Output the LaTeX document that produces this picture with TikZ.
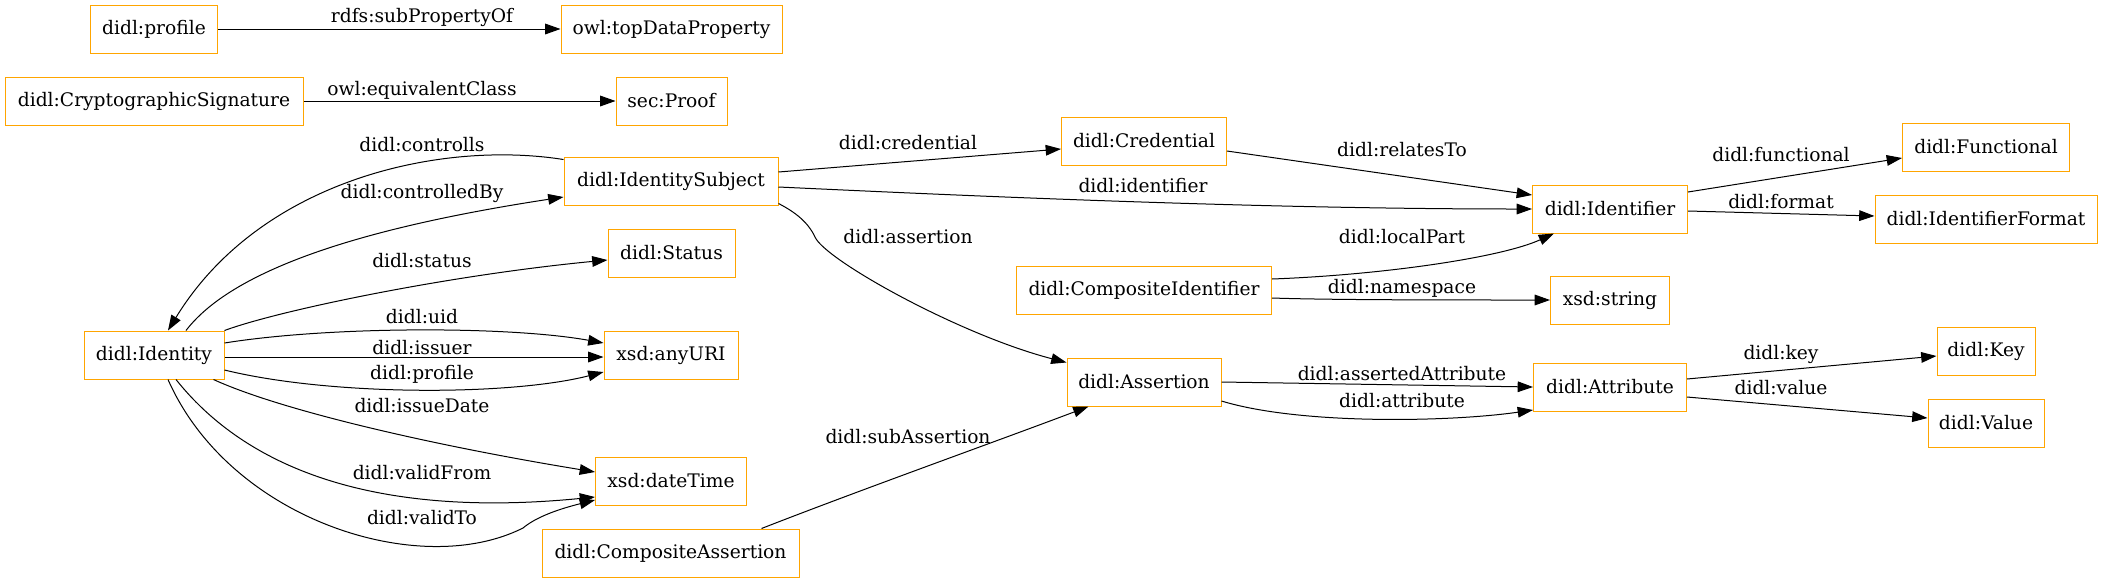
\documentclass[tikz,border=0pt]{standalone}
\usepackage{fontspec}
\setmainfont{DejaVu Serif}
\usetikzlibrary{arrows.meta,calc}
\definecolor{gvorange}{HTML}{FFA500}
\begin{document}
\begin{tikzpicture}[x=0.75pt,y=-0.75pt,
  box/.style={draw=gvorange,line width=0.75pt,rectangle,minimum height=36pt,inner xsep=1pt,inner ysep=0pt,font=\fontsize{14}{16}\selectfont},
  lbl/.style={inner sep=0pt,font=\fontsize{14}{16}\selectfont},
  edge/.style={draw=black,line width=0.75pt,-{Triangle[length=11.5pt,width=8pt]}}]
\useasboundingbox (0,0) rectangle (2103,583);
% nodes
\node[box,minimum width=95.25pt] (profile) at (154,29) {didl:profile};
\node[box,minimum width=165.75pt] (topdp) at (671.5,29) {owl:topDataProperty};
\node[box,minimum width=223.5pt] (crypto) at (154,101) {didl:CryptographicSignature};
\node[box,minimum width=83.25pt] (proof) at (671.5,101) {sec:Proof};
\node[box,minimum width=160.5pt] (ids) at (671,181) {didl:IdentitySubject};
\node[box,minimum width=95.25pt] (status) at (671.5,253) {didl:Status};
\node[box,minimum width=105pt] (identity) at (154,355) {didl:Identity};
\node[box,minimum width=100.5pt] (anyuri) at (671,355) {xsd:anyURI};
\node[box,minimum width=113.25pt] (datetime) at (671,481) {xsd:dateTime};
\node[box,minimum width=192.75pt] (compass) at (670.5,553) {didl:CompositeAssertion};
\node[box,minimum width=123.75pt] (cred) at (1144,141) {didl:Credential};
\node[box,minimum width=191.25pt] (compid) at (1144,290) {didl:CompositeIdentifier};
\node[box,minimum width=115.5pt] (assertion) at (1144,382) {didl:Assertion};
\node[box,minimum width=116.25pt] (identifier) at (1610,209) {didl:Identifier};
\node[box,minimum width=89.25pt] (string) at (1610,300) {xsd:string};
\node[box,minimum width=114.75pt] (attribute) at (1610,387) {didl:Attribute};
\node[box,minimum width=125.25pt] (functional) at (1986,147) {didl:Functional};
\node[box,minimum width=166.5pt] (idformat) at (1986,219) {didl:IdentifierFormat};
\node[box,minimum width=73.5pt] (key) at (1986,351) {didl:Key};
\node[box,minimum width=87pt] (value) at (1986,423) {didl:Value};
% edges
\draw[edge] (profile.east) -- (topdp.west);
\draw[edge] (crypto.east) -- (proof.west);
\draw[edge] ($(ids.north west)+(0,3)$) .. controls (440,140) and (260,180) .. ($(identity.north)+(14,0)$);
\draw[edge] ($(identity.north)+(32,0)$) .. controls (240,260) and (400,222) .. ($(ids.west)+(0,16)$);
\draw[edge] (identity.north east) .. controls (280,310) and (450,275) .. ($(status.west)+(0,7)$);
\draw[edge] ($(identity.east)+(0,-12)$) .. controls (330,326) and (510,326) .. ($(anyuri.west)+(0,-12)$);
\draw[edge] ($(identity.east)+(0,2)$) -- ($(anyuri.west)+(0,2)$);
\draw[edge] ($(identity.east)+(0,15)$) .. controls (330,396) and (510,396) .. ($(anyuri.west)+(0,17)$);
\draw[edge] ($(identity.south east)+(-11,0)$) .. controls (280,410) and (430,445) .. ($(datetime.west)+(0,-9)$);
\draw[edge] ($(identity.south)+(22,0)$) .. controls (240,460) and (360,520) .. ($(datetime.west)+(0,16)$);
\draw[edge] ($(identity.south)+(14,0)$) .. controls (230,520) and (420,580) .. (523,528) .. controls (535,518) and (555,510) .. ($(datetime.west)+(0,19)$);
\draw[edge] ($(ids.east)+(0,-9)$) -- ($(cred.west)+(0,8)$);
\draw[edge] ($(ids.east)+(0,6)$) .. controls (950,195) and (1250,209) .. (identifier.west);
\draw[edge] ($(ids.south east)+(0,-2)$) .. controls (795,212) and (808,222) .. (815,237) .. controls (825,260) and (960,335) .. ($(assertion.north west)+(0,5)$);
\draw[edge] ($(cred.east)+(0,10)$) -- ($(identifier.west)+(0,-14)$);
\draw[edge] ($(compid.east)+(0,-11)$) .. controls (1380,275) and (1500,258) .. ($(identifier.south west)+(22,0)$);
\draw[edge] ($(compid.east)+(0,8)$) .. controls (1330,300) and (1450,300) .. (string.west);
\draw[edge] (assertion.east) -- (attribute.west);
\draw[edge] ($(assertion.east)+(0,19)$) .. controls (1300,425) and (1450,422) .. ($(attribute.west)+(0,23)$);
\draw[edge] ($(compass.north)+(91,0)$) .. controls (860,490) and (1000,440) .. ($(assertion.south west)+(22,0)$);
\draw[edge] ($(identifier.east)+(0,-17)$) -- ($(functional.west)+(0,11)$);
\draw[edge] ($(identifier.east)+(0,2)$) -- ($(idformat.west)+(0,-3)$);
\draw[edge] ($(attribute.east)+(0,-8)$) -- ($(key.west)+(0,5)$);
\draw[edge] ($(attribute.east)+(0,10)$) -- ($(value.west)+(0,-5)$);
% labels
\node[lbl] (l1) at (422,17) {rdfs:subPropertyOf};
\node[lbl] (l2) at (422,90) {owl:equivalentClass};
\node[lbl] (l3) at (422,145) {didl:controlls};
\node[lbl] (l4) at (422,193) {didl:controlledBy};
\node[lbl] (l5) at (422,261) {didl:status};
\node[lbl] (l6) at (422,317) {didl:uid};
\node[lbl] (l7) at (422,348) {didl:issuer};
\node[lbl] (l8) at (422,374) {didl:profile};
\node[lbl] (l9) at (422,406) {didl:issueDate};
\node[lbl] (l10) at (422,473) {didl:validFrom};
\node[lbl] (l11) at (422,518) {didl:validTo};
\node[lbl] (l12) at (908,143) {didl:credential};
\node[lbl] (l13) at (1143,186) {didl:identifier};
\node[lbl] (l14) at (908,237) {didl:assertion};
\node[lbl] (l15) at (1402,150) {didl:relatesTo};
\node[lbl] (l16) at (1402,237) {didl:localPart};
\node[lbl] (l17) at (1402,288) {didl:namespace};
\node[lbl] (l18) at (1402,374) {didl:assertedAttribute};
\node[lbl] (l19) at (1402,401) {didl:attribute};
\node[lbl] (l20) at (908,437) {didl:subAssertion};
\node[lbl] (l21) at (1781,155) {didl:functional};
\node[lbl] (l22) at (1781,202) {didl:format};
\node[lbl] (l23) at (1781,354) {didl:key};
\node[lbl] (l24) at (1781,388) {didl:value};
\end{tikzpicture}
\end{document}
